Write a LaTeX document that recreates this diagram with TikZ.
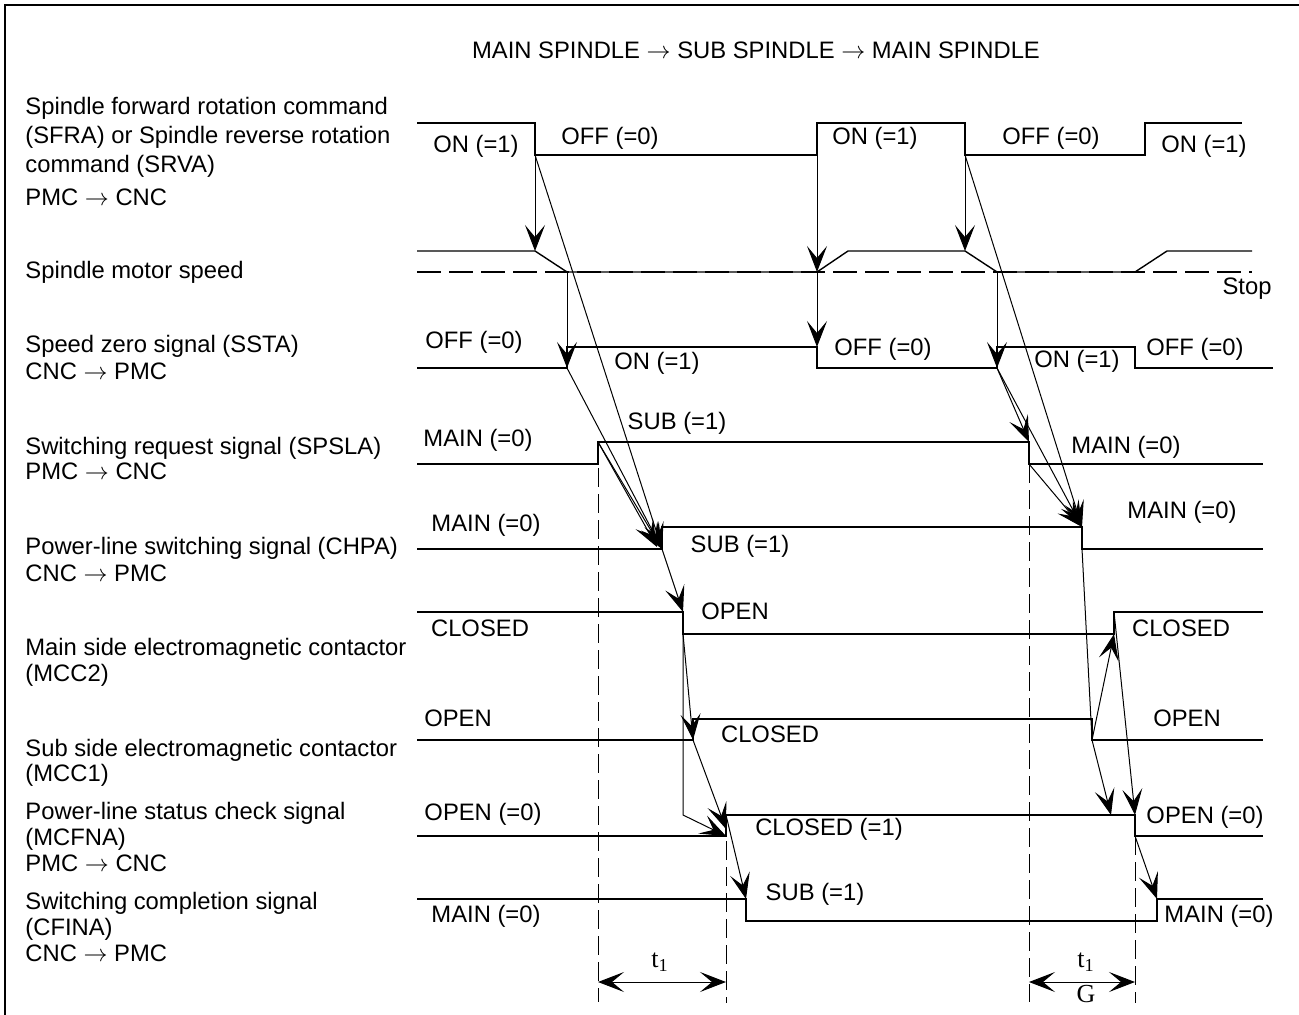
\documentclass[tikz,border=0pt]{standalone}
\usepackage{fontspec}
\setmainfont{Liberation Sans}
\newfontfamily\timesfont{Liberation Serif}
\usetikzlibrary{arrows.meta}
\newcommand{\sto}{$\rightarrow$}

\begin{document}
\begin{tikzpicture}[x=0.5pt, y=-0.5pt, >={Stealth[length=13pt, width=10pt, inset=6pt]},
    font=\fontsize{11.9}{14}\selectfont,
    wave/.style={line width=0.7pt},
    cause/.style={->, line width=0.5pt},
    guide/.style={dash pattern=on 9.5pt off 3.5pt, line width=0.5pt},
    lbl/.style={anchor=base west, inner sep=0pt},
    val/.style={inner sep=0pt},
    tval/.style={inner sep=0pt, font=\timesfont\fontsize{13}{15}\selectfont}]
    \useasboundingbox (0,0) rectangle (1299,1015);
    \draw[line width=1pt] (5,1015) -- (5,5) -- (1299,5);

    \node[val] (title) at (756,50) {MAIN SPINDLE \sto{} SUB SPINDLE \sto{} MAIN SPINDLE};

    % signal names
    \node[lbl] (sfraT1) at (25,115) {Spindle forward rotation command};
    \node[lbl] (sfraT2) at (25,144) {(SFRA) or Spindle reverse rotation};
    \node[lbl] (sfraT3) at (25,173) {command (SRVA)};
    \node[lbl] (sfraT4) at (25,206) {PMC \sto{} CNC};
    \node[lbl] (spdT) at (25,279) {Spindle motor speed};
    \node[lbl] (sstaT1) at (25,353) {Speed zero signal (SSTA)};
    \node[lbl] (sstaT2) at (25,380) {CNC \sto{} PMC};
    \node[lbl] (spslaT1) at (25,454) {Switching request signal (SPSLA)};
    \node[lbl] (spslaT2) at (25,480) {PMC \sto{} CNC};
    \node[lbl] (chpaT1) at (25,554) {Power-line switching signal (CHPA)};
    \node[lbl] (chpaT2) at (25,581) {CNC \sto{} PMC};
    \node[lbl] (mcc2T1) at (25,655) {Main side electromagnetic contactor};
    \node[lbl] (mcc2T2) at (25,681) {(MCC2)};
    \node[lbl] (mcc1T1) at (25,756) {Sub side electromagnetic contactor};
    \node[lbl] (mcc1T2) at (25,781) {(MCC1)};
    \node[lbl] (mcfT1) at (25,819) {Power-line status check signal};
    \node[lbl] (mcfT2) at (25,845) {(MCFNA)};
    \node[lbl] (mcfT3) at (25,871) {PMC \sto{} CNC};
    \node[lbl] (cfT1) at (25,909) {Switching completion signal};
    \node[lbl] (cfT2) at (25,935) {(CFINA)};
    \node[lbl] (cfT3) at (25,961) {CNC \sto{} PMC};

    % waveforms
    \draw[wave] (417,123) -- (535,123) -- (535,155) -- (817,155) -- (817,123) -- (965,123)
      -- (965,155) -- (1145,155) -- (1145,123) -- (1242,123);
    \draw[dash pattern=on 12pt off 4pt, line width=0.6pt] (417,272) -- (1252,272);
    \draw[wave] (417,251) -- (535,251) -- (567,272) -- (817,272) -- (848,251) -- (965,251)
      -- (997,272) -- (1135,272) -- (1167,251) -- (1252,251);
    \draw[wave] (417,368) -- (567,368) -- (567,347) -- (817,347) -- (817,368) -- (997,368)
      -- (997,347) -- (1135,347) -- (1135,368) -- (1273,368);
    \draw[wave] (417,464) -- (598,464) -- (598,442) -- (1029,442) -- (1029,464) -- (1263,464);
    \draw[wave] (417,549) -- (662,549) -- (662,527) -- (1082,527) -- (1082,549) -- (1263,549);
    \draw[wave] (417,612) -- (683,612) -- (683,634) -- (1114,634) -- (1114,612) -- (1263,612);
    \draw[wave] (417,740) -- (693,740) -- (693,719) -- (1092,719) -- (1092,740) -- (1263,740);
    \draw[wave] (417,836) -- (726,836) -- (726,815) -- (1135,815) -- (1135,836) -- (1263,836);
    \draw[wave] (417,899) -- (746,899) -- (746,921) -- (1157,921) -- (1157,899) -- (1263,899);

    % levels
    \node[val] (sfraOnA) at (476,146) {ON (=1)};
    \node[val] (sfraOffA) at (610,138) {OFF (=0)};
    \node[val] (sfraOnB) at (875,138) {ON (=1)};
    \node[val] (sfraOffB) at (1051,138) {OFF (=0)};
    \node[val] (sfraOnC) at (1204,146) {ON (=1)};
    \node[val] (stop) at (1247,289) {Stop};
    \node[val] (sstaOffA) at (474,342) {OFF (=0)};
    \node[val] (sstaOnA) at (657,363) {ON (=1)};
    \node[val] (sstaOffB) at (883,349) {OFF (=0)};
    \node[val] (sstaOnB) at (1077,361) {ON (=1)};
    \node[val] (sstaOffC) at (1195,349) {OFF (=0)};
    \node[val] (spslaMainA) at (478,440) {MAIN (=0)};
    \node[val] (spslaSub) at (677,423) {SUB (=1)};
    \node[val] (spslaMainB) at (1126,447) {MAIN (=0)};
    \node[val] (chpaMainA) at (486,525) {MAIN (=0)};
    \node[val] (chpaSub) at (740,546) {SUB (=1)};
    \node[val] (chpaMainB) at (1182,512) {MAIN (=0)};
    \node[val] (mcc2ClA) at (480,628) {CLOSED};
    \node[val] (mcc2Opn) at (735,611) {OPEN};
    \node[val] (mcc2ClB) at (1181,628) {CLOSED};
    \node[val] (mcc1OpA) at (458,718) {OPEN};
    \node[val] (mcc1Cls) at (770,734) {CLOSED};
    \node[val] (mcc1OpB) at (1187,718) {OPEN};
    \node[val] (mcfOpA) at (483,814) {OPEN (=0)};
    \node[val] (mcfCls) at (829,829) {CLOSED (=1)};
    \node[val] (mcfOpB) at (1205,817) {OPEN (=0)};
    \node[val] (cfMainA) at (486,916) {MAIN (=0)};
    \node[val] (cfSub) at (815,894) {SUB (=1)};
    \node[val] (cfMainB) at (1219,916) {MAIN (=0)};

    % edge points
    \coordinate (sfraOff1) at (535,155);
    \coordinate (sfraOn2) at (817,155);
    \coordinate (sfraOff2) at (965,155);
    \coordinate (spdDec1) at (535,251);
    \coordinate (spdStop1) at (567,272);
    \coordinate (spdAcc) at (817,272);
    \coordinate (spdDec2) at (965,251);
    \coordinate (spdStop2) at (997,272);
    \coordinate (sstaOn1) at (567,368);
    \coordinate (sstaOff) at (817,347);
    \coordinate (sstaOn2) at (997,368);
    \coordinate (spslaUp) at (598,442);
    \coordinate (spslaDn) at (1029,442);
    \coordinate (spslaDnB) at (1029,464);
    \coordinate (chpaUp) at (662,549);
    \coordinate (chpaUp2) at (657,547);
    \coordinate (chpaDn) at (1082,527);
    \coordinate (chpaDnB) at (1082,549);
    \coordinate (mcc2Op) at (683,612);
    \coordinate (mcc2OpB) at (683,634);
    \coordinate (mcc2Bend) at (683,815);
    \coordinate (mcc2Cl) at (1114,634);
    \coordinate (mcc2ClT) at (1114,612);
    \coordinate (mcc1Cl) at (693,740);
    \coordinate (mcc1Op) at (1092,740);
    \coordinate (mcfUp) at (726,836);
    \coordinate (mcfUp2) at (726,829);
    \coordinate (mcfUpT) at (726,815);
    \coordinate (mcfHit) at (1111,815);
    \coordinate (mcfDn) at (1135,815);
    \coordinate (mcfDnB) at (1135,836);
    \coordinate (cfDn) at (746,899);
    \coordinate (cfUp) at (1157,899);

    % cause and effect
    \draw[cause] (sfraOff1) -- (spdDec1);
    \draw[cause] (sfraOff1) -- (chpaUp);
    \draw[cause] (spdStop1) -- (sstaOn1);
    \draw[cause] (sstaOn1) -- (chpaUp);
    \draw[cause] (spslaUp) -- (chpaUp);
    \draw[cause] (spslaUp) -- (chpaUp2);
    \draw[cause] (sfraOn2) -- (spdAcc);
    \draw[cause] (spdAcc) -- (sstaOff);
    \draw[cause] (sfraOff2) -- (spdDec2);
    \draw[cause] (sfraOff2) -- (chpaDn);
    \draw[cause] (spdStop2) -- (sstaOn2);
    \draw[cause] (sstaOn2) -- (spslaDn);
    \draw[cause] (sstaOn2) -- (chpaDn);
    \draw[cause] (spslaDnB) -- (chpaDn);
    \draw[cause] (chpaUp) -- (mcc2Op);
    \draw[cause] (mcc2OpB) -- (mcc1Cl);
    \draw[cause] (mcc2OpB) -- (mcc2Bend) -- (mcfUp);
    \draw[cause] (mcc1Cl) -- (mcfUp2);
    \draw[cause] (mcfUpT) -- (cfDn);
    \draw[line width=0.5pt] (chpaDnB) -- (mcc1Op);
    \draw[cause] (mcc1Op) -- (mcc2Cl);
    \draw[cause] (mcc1Op) -- (mcfHit);
    \draw[cause] (mcc2ClT) -- (mcfDn);
    \draw[cause] (mcfDnB) -- (cfUp);

    % t1 intervals
    \coordinate (gA) at (598,1002);
    \coordinate (gB) at (726,1003);
    \coordinate (gC) at (1029,1002);
    \coordinate (gD) at (1135,1003);
    \draw[guide] (spslaUp) -- (gA);
    \draw[guide] (mcfUpT) -- (gB);
    \draw[guide] (spslaDnB) -- (gC);
    \draw[guide] (mcfDnB) -- (gD);
    \draw[<->, line width=0.5pt] (598,982) -- (726,982);
    \draw[<->, line width=0.5pt] (1029,982) -- (1135,982);
    \node[tval] (tA) at (660,962) {t\textsubscript{1}};
    \node[tval] (tB) at (1086,962) {t\textsubscript{1}};
    \node[tval] (gTxt) at (1086,994) {G};
\end{tikzpicture}
\end{document}
